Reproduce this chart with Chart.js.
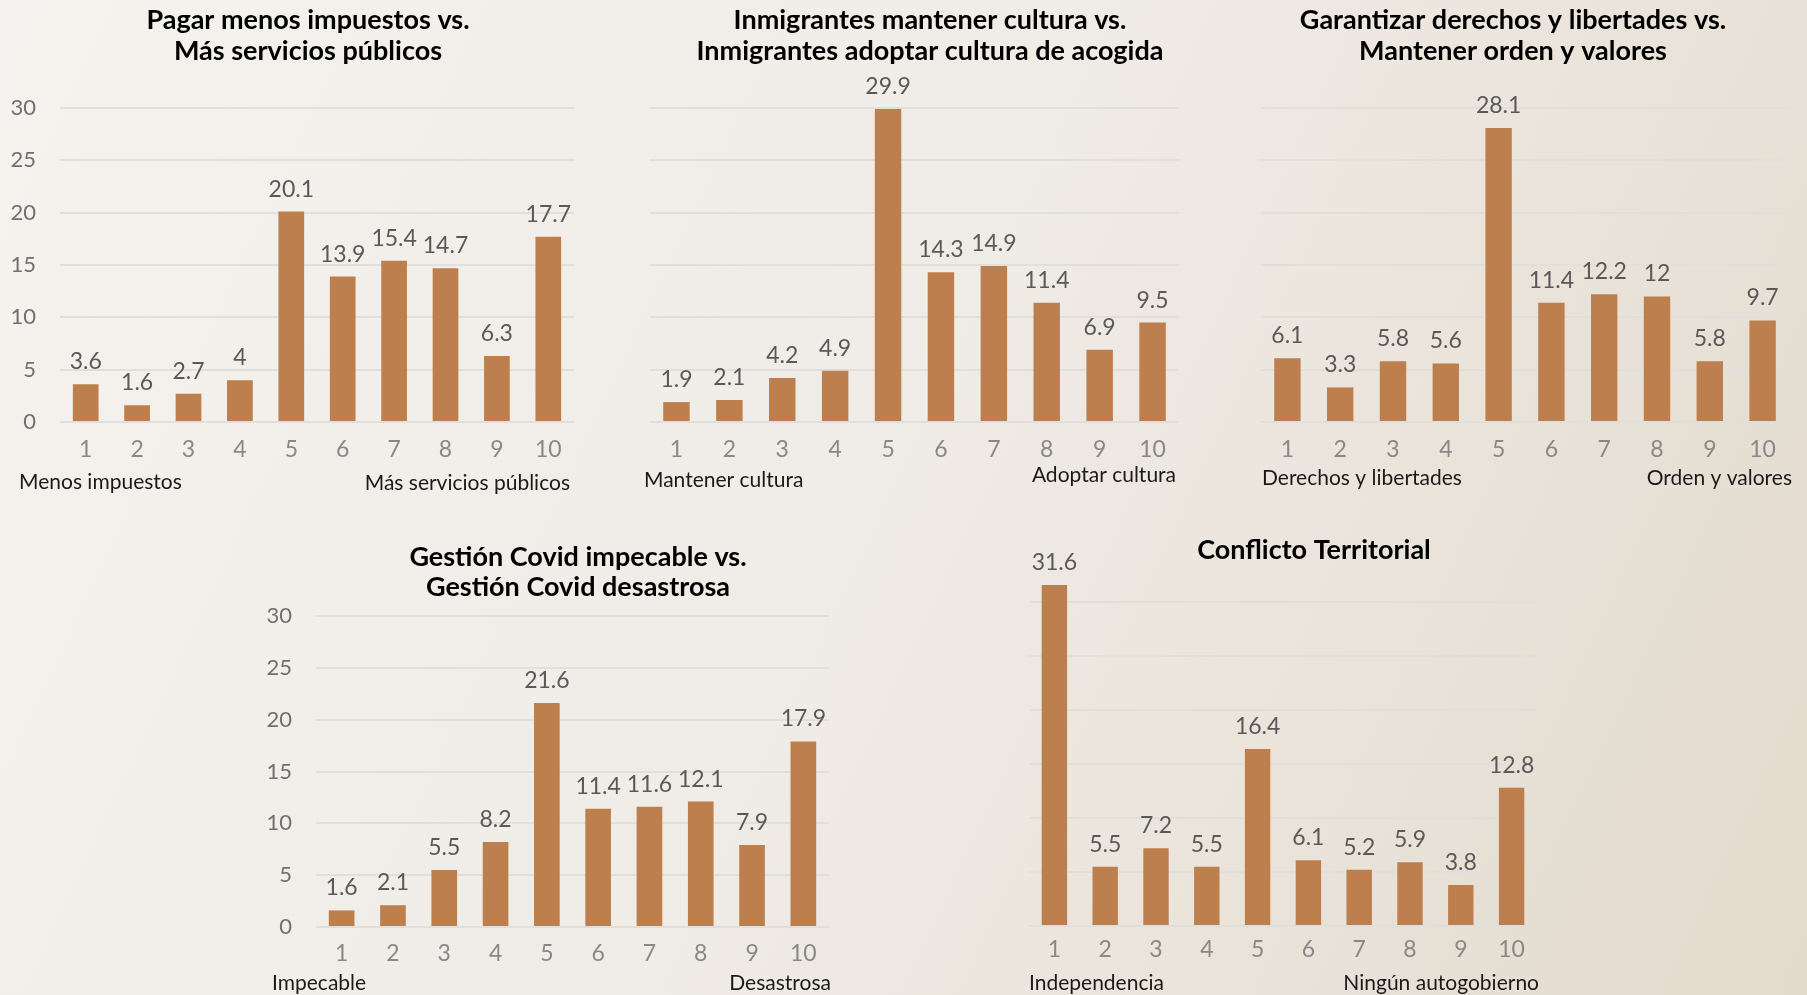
<!DOCTYPE html>
<html>
<head>
<meta charset="utf-8">
<script src="https://cdn.jsdelivr.net/npm/chart.js@4.4.1/dist/chart.umd.min.js"></script>
<style>
    html, body { margin: 0; padding: 0; width: 1807px; height: 995px; overflow: hidden; }
    body { background: linear-gradient(115deg, #f5f3ef 0%, #efebe5 50%, #e3dacd 100%); }
    .panel { position: absolute; }
</style>
</head>
<body>
<div class="panel" id="p1"><canvas id="c1"></canvas></div>
<div class="panel" id="p2"><canvas id="c2"></canvas></div>
<div class="panel" id="p3"><canvas id="c3"></canvas></div>
<div class="panel" id="p4"><canvas id="c4"></canvas></div>
<div class="panel" id="p5"><canvas id="c5"></canvas></div>
<script>
// data (% per point of the 1-10 scale)
const categories = ['1', '2', '3', '4', '5', '6', '7', '8', '9', '10'];
const impuestos = [3.6, 1.6, 2.7, 4, 20.1, 13.9, 15.4, 14.7, 6.3, 17.7];
const cultura = [1.9, 2.1, 4.2, 4.9, 29.9, 14.3, 14.9, 11.4, 6.9, 9.5];
const derechos = [6.1, 3.3, 5.8, 5.6, 28.1, 11.4, 12.2, 12, 5.8, 9.7];
const covid = [1.6, 2.1, 5.5, 8.2, 21.6, 11.4, 11.6, 12.1, 7.9, 17.9];
const territorial = [31.6, 5.5, 7.2, 5.5, 16.4, 6.1, 5.2, 5.9, 3.8, 12.8];

const titles = [
    ['Pagar menos impuestos vs.', 'Más servicios públicos'],
    ['Inmigrantes mantener cultura vs.', 'Inmigrantes adoptar cultura de acogida'],
    ['Garantizar derechos y libertades vs.', 'Mantener orden y valores'],
    ['Gestión Covid impecable vs.', 'Gestión Covid desastrosa'],
    ['Conflicto Territorial']
];
const endLabels = [
    ['Menos impuestos', 'Más servicios públicos'],
    ['Mantener cultura', 'Adoptar cultura'],
    ['Derechos y libertades', 'Orden y valores'],
    ['Impecable', 'Desastrosa'],
    ['Independencia', 'Ningún autogobierno']
];

const BAR = '#bd7f4d';
const FONT = 'Lato, "Open Sans", sans-serif';

// panel layout: box = div [left, top, w, h], area = plot area [l, t, r, b] (page px)
const panels = [
    { data: impuestos, box: [0, 0, 590, 500], area: [60, 108, 574, 422], yTicks: true, max: 30,
      titleX: 308, titleY: [20, 51], endX: [19, 570], endY: [482, 483], tickPad: 6 },
    { data: cultura, box: [590, 0, 600, 500], area: [650, 108, 1179, 422], yTicks: false, max: 30,
      titleX: 930, titleY: [20, 51], endX: [644, 1176], endY: [480, 475], tickPad: 6 },
    { data: derechos, box: [1190, 0, 617, 500], area: [1261, 108, 1789, 422], yTicks: false, max: 30,
      titleX: 1513, titleY: [20, 51], endX: [1262, 1792], endY: [478, 478], tickPad: 6 },
    { data: covid, box: [200, 500, 680, 495], area: [316, 616, 829, 927], yTicks: true, max: 30,
      titleX: 578, titleY: [557, 587], endX: [272, 831], endY: [983, 983], tickPad: 5 },
    { data: territorial, box: [900, 500, 907, 495], area: [1029, 559, 1537, 926], yTicks: false, max: 34,
      titleX: 1314, titleY: [550], endX: [1029, 1539], endY: [983, 983], tickPad: 2 }
];

const Y_AXIS_W = 58;
const X_AXIS_H = 40;

// values above bars, title and the two end labels under the axis
const panelText = {
    id: 'panelText',
    afterDatasetsDraw(chart, args, opts) {
        const ctx = chart.ctx;
        const meta = chart.getDatasetMeta(0);
        const values = chart.data.datasets[0].data;
        ctx.save();
        ctx.font = '23px ' + FONT;
        ctx.fillStyle = '#595959';
        ctx.textAlign = 'center';
        ctx.textBaseline = 'alphabetic';
        meta.data.forEach(function (bar, i) {
            ctx.fillText(String(values[i]), bar.x, bar.y - 15);
        });

        const ox = opts.box[0], oy = opts.box[1];
        ctx.fillStyle = '#000000';
        ctx.font = 'bold 27px ' + FONT;
        ctx.textBaseline = 'middle';
        opts.title.forEach(function (line, i) {
            ctx.fillText(line, opts.titleX - ox, opts.titleY[i] - oy);
        });

        ctx.font = '21px ' + FONT;
        ctx.fillStyle = '#1a1a1a';
        ctx.textAlign = 'left';
        ctx.fillText(opts.ends[0], opts.endX[0] - ox, opts.endY[0] - oy);
        ctx.textAlign = 'right';
        ctx.fillText(opts.ends[1], opts.endX[1] - ox, opts.endY[1] - oy);
        ctx.restore();
    }
};

panels.forEach(function (p, n) {
    const div = document.getElementById('p' + (n + 1));
    div.style.left = p.box[0] + 'px';
    div.style.top = p.box[1] + 'px';
    const canvas = document.getElementById('c' + (n + 1));
    canvas.width = p.box[2];
    canvas.height = p.box[3];

    const yw = p.yTicks ? Y_AXIS_W : 0;
    const padding = {
        left: p.area[0] - p.box[0] - yw,
        top: p.area[1] - p.box[1],
        right: p.box[0] + p.box[2] - p.area[2],
        bottom: p.box[1] + p.box[3] - p.area[3] - X_AXIS_H
    };

    new Chart(canvas, {
        type: 'bar',
        data: {
            labels: categories,
            datasets: [{
                data: p.data,
                backgroundColor: BAR,
                borderWidth: 0,
                categoryPercentage: 1,
                barPercentage: 0.5
            }]
        },
        options: {
            responsive: false,
            animation: false,
            layout: { padding: padding },
            plugins: {
                legend: { display: false },
                tooltip: { enabled: false },
                panelText: {
                    box: p.box, title: titles[n], titleX: p.titleX, titleY: p.titleY,
                    ends: endLabels[n], endX: p.endX, endY: p.endY
                }
            },
            scales: {
                x: {
                    grid: { display: false },
                    border: { display: false },
                    ticks: { color: '#888888', font: { family: FONT, size: 23 }, padding: p.tickPad },
                    afterFit: function (scale) { scale.height = X_AXIS_H; }
                },
                y: {
                    min: 0,
                    max: p.max,
                    grid: { color: '#e1dfdc', lineWidth: 2, drawTicks: false },
                    border: { display: false },
                    ticks: {
                        display: p.yTicks, stepSize: 5, includeBounds: false,
                        color: '#707070', font: { family: FONT, size: 22 }, padding: 24
                    },
                    afterFit: function (scale) { scale.width = yw; }
                }
            }
        },
        plugins: [panelText]
    });
});
</script>
</body>
</html>
